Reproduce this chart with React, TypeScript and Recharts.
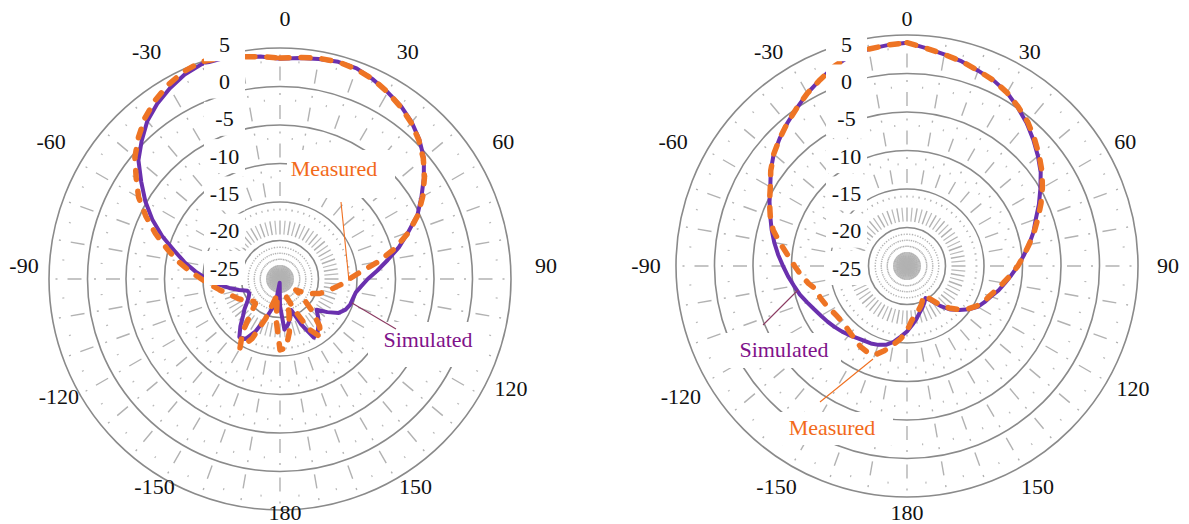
import { RadarChart, Radar, PolarGrid, PolarAngleAxis, PolarRadiusAxis } from 'recharts';

const SERIF = "'Liberation Serif', 'Times New Roman', serif";

// azimuth in degrees, clockwise from the top
const ANGLES = [
  0, 5, 10, 15, 20, 25, 30, 35, 40, 45, 50, 55,
  60, 65, 70, 75, 80, 85, 90, 95, 100, 105, 110, 115,
  120, 125, 130, 135, 140, 145, 150, 155, 160, 165, 170, 175,
  180, 185, 190, 195, 200, 205, 210, 215, 220, 225, 230, 235,
  240, 245, 250, 255, 260, 265, 270, 275, 280, 285, 290, 295,
  300, 305, 310, 315, 320, 325, 330, 335, 340, 345, 350, 355,
];

const RADIUS_TICKS = [-25, -20, -15, -10, -5, 0, 5];

// gain in dB, left pattern
const LEFT_SIMULATED = [
  3.6, 3.8, 4.0, 4.2, 4.1, 3.6, 3.0, 2.4, 1.6, 0.6, -0.6, -2.2,
  -3.8, -5.3, -7.3, -9.0, -10.8, -12.3, -13.6, -14.4, -15.0, -15.2, -15.3, -15.6,
  -16.2, -17.5, -18.8, -18.0, -17.2, -16.5, -16.2, -18.5, -20.7, -19.8, -19.0, -18.4,
  -21.5, -24.5, -22.5, -21.0, -19.5, -17.5, -16.0, -15.8, -17.0, -18.2, -19.0, -19.8,
  -20.3, -20.6, -20.5, -19.5, -18.3, -16.9, -15.5, -14.0, -12.4, -10.8, -8.7, -6.7,
  -4.8, -3.0, -1.0, 0.4, 1.8, 2.8, 3.6, 4.3, 4.7, 4.6, 4.3, 4.0,
];

const LEFT_MEASURED = [
  3.7, 3.9, 4.1, 4.2, 4.0, 3.6, 3.0, 2.3, 1.5, 0.5, -0.7, -2.1,
  -3.6, -5.2, -7.2, -9.5, -12.0, -14.5, -16.0, -17.0, -18.0, -18.8, -19.5, -20.5,
  -21.5, -22.5, -21.0, -19.0, -17.0, -15.8, -17.5, -20.5, -22.5, -20.5, -18.0, -16.0,
  -15.8, -19.5, -23.0, -22.0, -19.5, -16.5, -14.6, -16.5, -19.0, -20.5, -20.5, -20.0,
  -19.5, -19.0, -18.5, -17.8, -17.0, -16.0, -14.8, -13.2, -11.5, -9.8, -7.8, -5.8,
  -3.8, -2.2, -0.4, 1.0, 2.3, 3.3, 4.1, 4.7, 5.0, 4.7, 4.3, 4.0,
];

// gain in dB, right pattern
const RIGHT_SIMULATED = [
  4.0, 3.4, 2.9, 2.5, 2.0, 1.6, 1.0, 0.1, -0.8, -1.8, -2.8, -3.8,
  -5.0, -6.1, -7.2, -8.0, -8.9, -9.8, -10.6, -11.4, -12.1, -12.7, -13.4, -13.9,
  -14.4, -15.2, -16.1, -17.0, -18.2, -19.5, -20.2, -19.7, -19.2, -18.7, -18.0, -17.3,
  -16.5, -15.8, -15.0, -14.4, -14.1, -13.9, -13.8, -13.6, -13.3, -13.0, -12.7, -12.4,
  -12.1, -11.7, -11.2, -10.6, -10.1, -9.5, -8.9, -8.2, -7.5, -6.8, -6.1, -5.3,
  -4.5, -3.4, -2.4, -1.6, -0.8, 0.0, 0.9, 1.7, 2.6, 3.3, 3.6, 3.8,
];

const RIGHT_MEASURED = [
  4.0, 3.4, 2.9, 2.5, 2.0, 1.6, 1.0, 0.2, -0.6, -1.6, -2.6, -3.6,
  -4.7, -5.8, -6.9, -7.9, -8.9, -9.8, -10.6, -11.5, -12.3, -13.0, -13.6, -14.0,
  -14.6, -15.3, -16.2, -17.3, -18.5, -19.8, -20.6, -20.2, -19.6, -19.1, -18.6, -17.9,
  -16.6, -15.5, -14.6, -13.6, -12.7, -12.7, -12.9, -13.3, -13.6, -13.8, -13.9, -13.8,
  -13.6, -13.3, -13.0, -12.9, -12.0, -11.2, -10.4, -9.5, -8.3, -7.0, -6.1, -5.3,
  -4.5, -3.4, -2.4, -1.6, -0.8, 0.0, 0.9, 1.7, 2.6, 3.3, 3.6, 3.8,
];

const MAJOR_SPOKES = [
  0, 10, 20, 30, 40, 50, 60, 70, 80, 90, 100, 110, 120, 130, 140, 150, 160, 170,
  180, 190, 200, 210, 220, 230, 240, 250, 260, 270, 280, 290, 300, 310, 320, 330, 340, 350,
];
const MINOR_SPOKES = [
  5, 15, 25, 35, 45, 55, 65, 75, 85, 95, 105, 115, 125, 135, 145, 155, 165, 175,
  185, 195, 205, 215, 225, 235, 245, 255, 265, 275, 285, 295, 305, 315, 325, 335, 345, 355,
];

// spokes: solid hub, dotted inner rings, then one dash + one dot per band
const HUB_DASH = '14 5 1.5 4.5 1.5 4.5 1.5 12 14 10 2 12.5';
const MAJOR_DASH = `${HUB_DASH} 14 10 2 12.5 14 10 2 12.5 14 10 2 12.5 14 10 2 12.5`;
const MINOR_DASH = `${HUB_DASH} 0 18 2 18.5 0 18 2 18.5 0 18 2 18.5 0 18 2 18.5`;

const PURPLE = '#6a30ae';
const ORANGE = '#ee7424';
const OUTER_R = 231;

const leftData = ANGLES.map((angle, i) => ({
  angle,
  simulated: LEFT_SIMULATED[i],
  measured: LEFT_MEASURED[i],
}));

const rightData = ANGLES.map((angle, i) => ({
  angle,
  simulated: RIGHT_SIMULATED[i],
  measured: RIGHT_MEASURED[i],
}));

// angle labels sit on an ellipse round the plot; the diagonal ones are nudged
// the way the original layout has them
function makeAngleTick(fx: number, fy: number) {
  return (props: any) => {
    const deg = Number(props.payload?.value);
    if (deg % 30 !== 0) return <g />;
    const rad = (deg * Math.PI) / 180;
    const c = Math.cos(rad);
    const s2 = Math.abs(Math.sin(2 * rad));
    let x = fx + 261 * Math.sin(rad);
    let y = fy - 247 * c;
    if (c > 0.1) x -= 9 * s2;
    if (c < -0.5) y += 9 * s2;
    return (
      <text
        x={x}
        y={y}
        textAnchor="middle"
        dominantBaseline="central"
        fontSize={22}
        fontFamily={SERIF}
        fill="#111"
      >
        {deg > 180 ? deg - 360 : deg}
      </text>
    );
  };
}

function makeRadiusTick(fx: number, fy: number) {
  return (props: any) => {
    const v = Number(props.payload?.value);
    const x = fx - 60.5;
    const y = fy + 3 - ((v + 25) / 5) * 37.3;
    return (
      <g>
        <rect x={x - 20.5} y={y - 17} width={41} height={34} fill="#fff" />
        <text
          x={x}
          y={y}
          textAnchor="middle"
          dominantBaseline="central"
          fontSize={22}
          fontFamily={SERIF}
          fill="#111"
        >
          {v}
        </text>
      </g>
    );
  };
}

interface PatternPlotProps {
  width: number;
  height: number;
  cx: number;
  cy: number;
  frameCx: number;
  frameCy: number;
  data: any[];
}

function PatternPlot({ width, height, cx, cy, frameCx, frameCy, data }: PatternPlotProps) {
  return (
    <RadarChart
      width={width}
      height={height}
      data={data}
      cx={cx}
      cy={cy}
      outerRadius={OUTER_R}
      margin={{ top: 0, right: 0, bottom: 0, left: 0 }}
    >
      <PolarGrid
        gridType="circle"
        polarRadius={[]}
        polarAngles={MINOR_SPOKES}
        stroke="#bababa"
        strokeWidth={1.2}
        strokeDasharray={MINOR_DASH}
      />
      <PolarGrid
        gridType="circle"
        polarRadius={[]}
        polarAngles={MAJOR_SPOKES}
        stroke="#b2b2b2"
        strokeWidth={1.4}
        strokeDasharray={MAJOR_DASH}
      />
      <PolarGrid gridType="circle" radialLines={false} stroke="#8a8a8a" strokeWidth={1.6} />
      <PolarAngleAxis
        dataKey="angle"
        type="category"
        axisLine={false}
        tickLine={false}
        tick={makeAngleTick(frameCx, frameCy)}
      />
      <Radar
        name="Simulated"
        dataKey="simulated"
        stroke={PURPLE}
        strokeWidth={4}
        strokeLinejoin="round"
        fill="none"
        fillOpacity={0}
        dot={false}
        isAnimationActive={false}
      />
      <Radar
        name="Measured"
        dataKey="measured"
        stroke={ORANGE}
        strokeWidth={5.5}
        strokeDasharray="9 12"
        strokeLinecap="round"
        strokeLinejoin="round"
        fill="none"
        fillOpacity={0}
        dot={false}
        isAnimationActive={false}
      />
      <PolarRadiusAxis
        angle={90}
        type="number"
        domain={[-25, 5]}
        ticks={RADIUS_TICKS}
        tickCount={7}
        axisLine={false}
        tick={makeRadiusTick(frameCx, frameCy)}
      />
    </RadarChart>
  );
}

function Callout({
  box,
  text,
  tx,
  ty,
  color,
  lead,
  leadColor,
}: {
  box: [number, number, number, number];
  text: string;
  tx: number;
  ty: number;
  color: string;
  lead: [number, number, number, number];
  leadColor: string;
}) {
  return (
    <g>
      <rect x={box[0]} y={box[1]} width={box[2] - box[0]} height={box[3] - box[1]} fill="#fff" />
      <line x1={lead[0]} y1={lead[1]} x2={lead[2]} y2={lead[3]} stroke={leadColor} strokeWidth={1.1} />
      <text
        x={tx}
        y={ty}
        textAnchor="middle"
        dominantBaseline="central"
        fontSize={22}
        fontFamily={SERIF}
        fill={color}
      >
        {text}
      </text>
    </g>
  );
}

export default function App() {
  return (
    <div style={{ position: 'absolute', left: 0, top: 0, width: 1189, height: 524, background: '#fff' }}>
      <div style={{ position: 'absolute', left: 0, top: 0 }}>
        <PatternPlot width={594} height={524} cx={280} cy={279} frameCx={285} frameCy={265} data={leftData} />
      </div>
      <div style={{ position: 'absolute', left: 594, top: 0 }}>
        <PatternPlot width={595} height={524} cx={313} cy={266} frameCx={313} frameCy={265} data={rightData} />
      </div>
      <svg
        width={1189}
        height={524}
        style={{ position: 'absolute', left: 0, top: 0, pointerEvents: 'none' }}
      >
        <Callout
          box={[287, 150, 395, 198]}
          text="Measured"
          tx={334}
          ty={168}
          color="#f26a1a"
          lead={[341, 202, 349, 281]}
          leadColor="#f07020"
        />
        <Callout
          box={[368, 322, 481, 367]}
          text="Simulated"
          tx={428}
          ty={339}
          color="#80128a"
          lead={[352, 303, 396, 329]}
          leadColor="#8b3a62"
        />
        <Callout
          box={[724, 333, 841, 368]}
          text="Simulated"
          tx={784}
          ty={349}
          color="#80128a"
          lead={[798, 290, 763, 325]}
          leadColor="#8b3a62"
        />
        <Callout
          box={[770, 412, 893, 445]}
          text="Measured"
          tx={832}
          ty={427}
          color="#f26a1a"
          lead={[873, 359, 820, 402]}
          leadColor="#f07020"
        />
      </svg>
    </div>
  );
}
